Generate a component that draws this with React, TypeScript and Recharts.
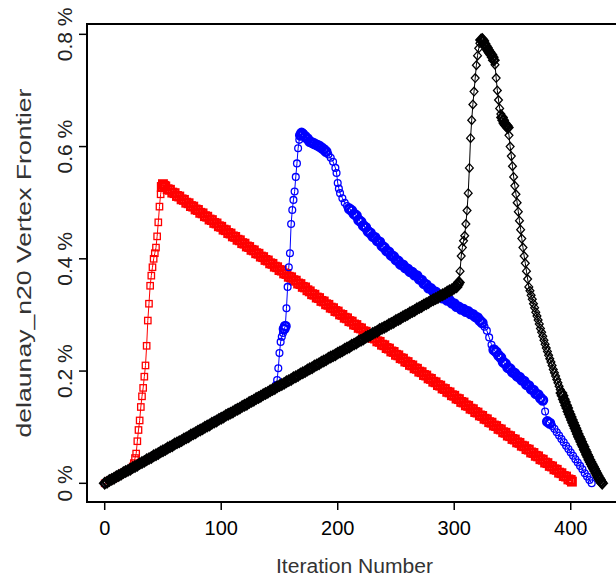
import React from 'react';
import { LineChart, Line, XAxis, YAxis, ReferenceArea } from 'recharts';

// iteration number, frontier size in %
const redSeries: [number, number][] = [
  [0, 0], [4, 0.005], [8, 0.009], [12, 0.014], [16, 0.019], [20, 0.023], [24, 0.03], [25, 0.036], [26, 0.045],
  [27, 0.053], [28, 0.075], [29, 0.095], [30, 0.112], [31, 0.136], [32, 0.155], [33, 0.17], [34, 0.19], [35, 0.21],
  [36, 0.245], [37, 0.29], [38, 0.32], [39, 0.352], [40, 0.37], [41, 0.385], [42, 0.4], [43, 0.41], [44, 0.42],
  [45, 0.44], [46, 0.465], [47, 0.493], [48, 0.515], [49, 0.528], [50, 0.533], [51, 0.53],
  [52, 0.529], [54, 0.524], [56, 0.523], [58, 0.518], [60, 0.517], [62, 0.512], [64, 0.511], [66, 0.506],
  [68, 0.505], [70, 0.5], [72, 0.499], [74, 0.494], [76, 0.493], [78, 0.488], [80, 0.487], [82, 0.482],
  [84, 0.481], [86, 0.476], [88, 0.475], [90, 0.47], [92, 0.469], [94, 0.464], [96, 0.463], [98, 0.458],
  [100, 0.457], [102, 0.452], [104, 0.451], [106, 0.446], [108, 0.445], [110, 0.44], [112, 0.439], [114, 0.434],
  [116, 0.433], [118, 0.428], [120, 0.427], [122, 0.422], [124, 0.421], [126, 0.416], [128, 0.415], [130, 0.41],
  [132, 0.409], [134, 0.404], [136, 0.403], [138, 0.398], [140, 0.397], [142, 0.392], [144, 0.391], [146, 0.386],
  [148, 0.385], [150, 0.38], [152, 0.379], [154, 0.374], [156, 0.373], [158, 0.368], [160, 0.367], [162, 0.362],
  [164, 0.361], [166, 0.356], [168, 0.355], [170, 0.35], [172, 0.349], [174, 0.344], [176, 0.342], [178, 0.337],
  [180, 0.336], [182, 0.331], [184, 0.33], [186, 0.325], [188, 0.324], [190, 0.319], [192, 0.318], [194, 0.313],
  [196, 0.312], [198, 0.307], [200, 0.306], [202, 0.301], [204, 0.3], [206, 0.295], [208, 0.294], [210, 0.289],
  [212, 0.288], [214, 0.283], [216, 0.282], [218, 0.277], [220, 0.276], [222, 0.271], [224, 0.27], [226, 0.265],
  [228, 0.264], [230, 0.259], [232, 0.258], [234, 0.253], [236, 0.252], [238, 0.247], [240, 0.246], [242, 0.241],
  [244, 0.24], [246, 0.235], [248, 0.234], [250, 0.229], [252, 0.228], [254, 0.223], [256, 0.222], [258, 0.217],
  [260, 0.216], [262, 0.211], [264, 0.21], [266, 0.205], [268, 0.204], [270, 0.199], [272, 0.198], [274, 0.193],
  [276, 0.192], [278, 0.187], [280, 0.186], [282, 0.181], [284, 0.18], [286, 0.175], [288, 0.174], [290, 0.169],
  [292, 0.168], [294, 0.163], [296, 0.162], [298, 0.157], [300, 0.156], [302, 0.151], [304, 0.15], [306, 0.145],
  [308, 0.144], [310, 0.139], [312, 0.138], [314, 0.133], [316, 0.132], [318, 0.127], [320, 0.126], [322, 0.121],
  [324, 0.12], [326, 0.115], [328, 0.114], [330, 0.109], [332, 0.108], [334, 0.103], [336, 0.102], [338, 0.097],
  [340, 0.096], [342, 0.091], [344, 0.09], [346, 0.085], [348, 0.084], [350, 0.079], [352, 0.078], [354, 0.073],
  [356, 0.072], [358, 0.067], [360, 0.066], [362, 0.061], [364, 0.06], [366, 0.055], [368, 0.054], [370, 0.049],
  [372, 0.048], [374, 0.043], [376, 0.042], [378, 0.037], [380, 0.036], [382, 0.031], [384, 0.03], [386, 0.025],
  [388, 0.024], [390, 0.019], [392, 0.018], [394, 0.013], [396, 0.012], [398, 0.007], [400, 0.006], [401, 0.003],
];

const blueSeries: [number, number][] = [
  [0, 0], [6, 0.007], [12, 0.014], [18, 0.021], [24, 0.028], [30, 0.035], [36, 0.042], [42, 0.049], [48, 0.056],
  [54, 0.063], [60, 0.07], [66, 0.077], [72, 0.084], [78, 0.091], [84, 0.099], [90, 0.106], [96, 0.113],
  [102, 0.12], [108, 0.127], [114, 0.133], [120, 0.14], [126, 0.147], [132, 0.154], [138, 0.161], [144, 0.168],
  [147, 0.175], [148, 0.184], [149, 0.205], [150, 0.232], [151, 0.252], [152, 0.261], [153, 0.268], [154, 0.275],
  [155, 0.28], [156, 0.312], [157, 0.35], [158, 0.385], [159, 0.41], [160, 0.462], [161, 0.487], [162, 0.505],
  [163, 0.52], [164, 0.546], [165, 0.57], [166, 0.597], [167, 0.612], [168, 0.62], [169, 0.624], [170, 0.622],
  [172, 0.618], [174, 0.614], [176, 0.609], [178, 0.607], [180, 0.605], [182, 0.603], [184, 0.601], [186, 0.598],
  [188, 0.595], [190, 0.591], [192, 0.586], [194, 0.58], [196, 0.573], [198, 0.562], [199, 0.553], [200, 0.535],
  [201, 0.525], [202, 0.517], [204, 0.508], [206, 0.5], [208, 0.494], [210, 0.489], [212, 0.486], [214, 0.48],
  [216, 0.477], [218, 0.469], [220, 0.466], [222, 0.459], [224, 0.456], [226, 0.449], [228, 0.446], [230, 0.44],
  [232, 0.438], [234, 0.432], [236, 0.43], [238, 0.423], [240, 0.42], [242, 0.414], [244, 0.412], [246, 0.406],
  [248, 0.404], [250, 0.398], [252, 0.396], [254, 0.39], [256, 0.389], [258, 0.384], [260, 0.382], [262, 0.377],
  [264, 0.376], [266, 0.371], [268, 0.37], [270, 0.364], [272, 0.362], [274, 0.356], [276, 0.354], [278, 0.348],
  [280, 0.347], [282, 0.342], [284, 0.341], [286, 0.336], [288, 0.335], [290, 0.33], [292, 0.33], [294, 0.326],
  [296, 0.326], [298, 0.321], [300, 0.32], [302, 0.315], [304, 0.314], [306, 0.31], [308, 0.31], [310, 0.306],
  [312, 0.306], [314, 0.302], [316, 0.301], [318, 0.297], [320, 0.295], [322, 0.29], [324, 0.286], [326, 0.279],
  [328, 0.272], [330, 0.26], [332, 0.247], [334, 0.238], [336, 0.234], [338, 0.228], [340, 0.224], [342, 0.216],
  [344, 0.213], [346, 0.206], [348, 0.204], [350, 0.198], [352, 0.196], [354, 0.191], [356, 0.189], [358, 0.184],
  [360, 0.182], [362, 0.176], [364, 0.174], [366, 0.168], [368, 0.166], [370, 0.16], [372, 0.158], [374, 0.152],
  [376, 0.148], [378, 0.128], [380, 0.11], [382, 0.107], [384, 0.102], [386, 0.097], [388, 0.091], [390, 0.085],
  [392, 0.079], [394, 0.073], [396, 0.067], [398, 0.061], [400, 0.055], [402, 0.049], [404, 0.043], [406, 0.037],
  [408, 0.031], [410, 0.025], [412, 0.018], [414, 0.012], [416, 0.006], [418, 0],
];

const blackSeries: [number, number][] = [
  [0, 0], [2, 0.002], [4, 0.005], [6, 0.007], [8, 0.009], [10, 0.012], [12, 0.014], [14, 0.016], [16, 0.019],
  [18, 0.021], [20, 0.023], [22, 0.025], [24, 0.028], [26, 0.03], [28, 0.032], [30, 0.035], [32, 0.037],
  [34, 0.039], [36, 0.042], [38, 0.044], [40, 0.046], [42, 0.049], [44, 0.051], [46, 0.053], [48, 0.056],
  [50, 0.058], [52, 0.06], [54, 0.063], [56, 0.065], [58, 0.067], [60, 0.07], [62, 0.072], [64, 0.074],
  [66, 0.076], [68, 0.079], [70, 0.081], [72, 0.083], [74, 0.086], [76, 0.088], [78, 0.09], [80, 0.093],
  [82, 0.095], [84, 0.097], [86, 0.1], [88, 0.102], [90, 0.104], [92, 0.107], [94, 0.109], [96, 0.111],
  [98, 0.114], [100, 0.116], [102, 0.118], [104, 0.121], [106, 0.123], [108, 0.125], [110, 0.127], [112, 0.13],
  [114, 0.132], [116, 0.134], [118, 0.137], [120, 0.139], [122, 0.141], [124, 0.144], [126, 0.146], [128, 0.148],
  [130, 0.151], [132, 0.153], [134, 0.155], [136, 0.158], [138, 0.16], [140, 0.162], [142, 0.165], [144, 0.167],
  [146, 0.169], [148, 0.172], [150, 0.174], [152, 0.176], [154, 0.178], [156, 0.181], [158, 0.183], [160, 0.185],
  [162, 0.188], [164, 0.19], [166, 0.192], [168, 0.195], [170, 0.197], [172, 0.199], [174, 0.202], [176, 0.204],
  [178, 0.206], [180, 0.209], [182, 0.211], [184, 0.213], [186, 0.216], [188, 0.218], [190, 0.22], [192, 0.223],
  [194, 0.225], [196, 0.227], [198, 0.229], [200, 0.232], [202, 0.234], [204, 0.236], [206, 0.239], [208, 0.241],
  [210, 0.243], [212, 0.246], [214, 0.248], [216, 0.25], [218, 0.253], [220, 0.255], [222, 0.257], [224, 0.26],
  [226, 0.262], [228, 0.264], [230, 0.267], [232, 0.269], [234, 0.271], [236, 0.274], [238, 0.276], [240, 0.278],
  [242, 0.28], [244, 0.283], [246, 0.285], [248, 0.287], [250, 0.29], [252, 0.292], [254, 0.294], [256, 0.297],
  [258, 0.299], [260, 0.301], [262, 0.304], [264, 0.306], [266, 0.308], [268, 0.311], [270, 0.313], [272, 0.315],
  [274, 0.318], [276, 0.32], [278, 0.322], [280, 0.325], [282, 0.327], [284, 0.329], [286, 0.331], [288, 0.334],
  [290, 0.336], [292, 0.338], [294, 0.341], [296, 0.343], [298, 0.345], [300, 0.348], [302, 0.35],
  [303, 0.354], [304, 0.358], [305, 0.378], [306, 0.405], [307, 0.42], [308, 0.432], [309, 0.441], [310, 0.462],
  [311, 0.486], [312, 0.517], [313, 0.562], [314, 0.615], [315, 0.647], [316, 0.675], [317, 0.698], [318, 0.722],
  [319, 0.745], [320, 0.762], [321, 0.775], [322, 0.784], [323, 0.79], [324, 0.791], [325, 0.788], [326, 0.783],
  [327, 0.779], [328, 0.776], [329, 0.772], [330, 0.769], [331, 0.766], [332, 0.763], [333, 0.759], [334, 0.754],
  [335, 0.746], [336, 0.722], [337, 0.7], [338, 0.683], [339, 0.668], [340, 0.658], [341, 0.652], [342, 0.647],
  [343, 0.642], [344, 0.639], [345, 0.637], [346, 0.634], [347, 0.62], [348, 0.6], [349, 0.583], [350, 0.565],
  [351, 0.546], [352, 0.53], [353, 0.515], [354, 0.5], [355, 0.484], [356, 0.468], [357, 0.452], [358, 0.436],
  [359, 0.42], [360, 0.405], [361, 0.392], [362, 0.378], [363, 0.364], [364, 0.35], [365, 0.343], [366, 0.335],
  [367, 0.328], [368, 0.32], [369, 0.313], [370, 0.305], [371, 0.298], [372, 0.291], [373, 0.284], [374, 0.276],
  [375, 0.269], [376, 0.262], [377, 0.255], [378, 0.248], [379, 0.241], [380, 0.235], [381, 0.228], [382, 0.222],
  [383, 0.216], [384, 0.21], [385, 0.203], [386, 0.197], [387, 0.191], [388, 0.185], [389, 0.179], [390, 0.173],
  [391, 0.167], [392, 0.161], [393, 0.156], [394, 0.15], [395, 0.145], [396, 0.139], [397, 0.134], [398, 0.128],
  [399, 0.123], [400, 0.118], [401, 0.113], [402, 0.108], [403, 0.103], [404, 0.098], [405, 0.093], [406, 0.088],
  [407, 0.083], [408, 0.079], [409, 0.074], [410, 0.069], [411, 0.065], [412, 0.06], [413, 0.056], [414, 0.051],
  [415, 0.047], [416, 0.042], [417, 0.038], [418, 0.034], [419, 0.03], [420, 0.026], [421, 0.022], [422, 0.018],
  [423, 0.014], [424, 0.01], [425, 0.007], [426, 0.003], [427, 0],
];

const xTicks = [0, 100, 200, 300, 400];
const yTicks = [0, 0.2, 0.4, 0.6, 0.8];
const xDomain: [number, number] = [-15.2, 444];
const yDomain: [number, number] = [-0.0333, 0.8184];

const FONT = '"Liberation Sans", Arial, Helvetica, sans-serif';

// approx pixels per unit, used only to tell crowded markers (they blur into a band in the original)
const PX_X = 534.5 / (xDomain[1] - xDomain[0]);
const PX_Y = 478 / (yDomain[1] - yDomain[0]);

const toRows = (s: [number, number][]) =>
  s.map(([x, y], i) => {
    const gap = (j: number) => {
      if (j < 0 || j >= s.length) return Infinity;
      return Math.hypot((s[j][0] - x) * PX_X, (s[j][1] - y) * PX_Y);
    };
    const near = Math.min(gap(i - 1), gap(i + 1));
    return { x, y, dense: near < 3.5 };
  });

const redRows = toRows(redSeries);
const blueRows = toRows(blueSeries);
const blackRows = toRows(blackSeries);

const squareDot = (p: any) => {
  const d = p.payload?.dense;
  const h = d ? 3.8 : 3.2;
  return (
    <rect key={`r${p.index}`} x={p.cx - h} y={p.cy - h} width={h * 2} height={h * 2} fill="none" stroke="#ff0000" strokeWidth={d ? 2.3 : 1.3} />
  );
};
const circleDot = (p: any) => {
  const d = p.payload?.dense;
  return <circle key={`b${p.index}`} cx={p.cx} cy={p.cy} r={d ? 4.1 : 3.4} fill="none" stroke="#0000ff" strokeWidth={d ? 2.8 : 1.3} />;
};
const diamondDot = (p: any) => {
  const d = p.payload?.dense;
  const hy = d ? 5 : 4.3;
  const hx = d ? 4.6 : 3.9;
  return (
    <path
      key={`k${p.index}`}
      d={`M${p.cx},${p.cy - hy}L${p.cx + hx},${p.cy}L${p.cx},${p.cy + hy}L${p.cx - hx},${p.cy}Z`}
      fill="none"
      stroke="#000"
      strokeWidth={d ? 2.3 : 1.3}
    />
  );
};

const YTick = (props: any) => {
  const { y, payload } = props;
  const v = payload.value;
  const text = v === 0 ? '0 %' : `${v.toFixed(1)} %`;
  const bx = 72;
  return (
    <text x={bx} y={y} transform={`rotate(-90, ${bx}, ${y})`} textAnchor="middle" fontFamily={FONT} fontSize={21} fill="#222">
      {text}
    </text>
  );
};

export default function App() {
  return (
    <div style={{ position: 'absolute', left: 0, top: 0, width: 616, height: 578, overflow: 'hidden', background: '#fff' }}>
      <LineChart width={630} height={578} margin={{ top: 24, right: 8, bottom: 0, left: 0 }}>
        <XAxis
          type="number"
          dataKey="x"
          domain={xDomain}
          ticks={xTicks}
          allowDataOverflow
          axisLine={false}
          tickLine={{ stroke: '#000', strokeWidth: 1.5 }}
          tickSize={8}
          tickMargin={11}
          height={76}
          tick={{ fill: '#000', fontSize: 20, fontFamily: FONT }}
          label={(props: any) => {
            const vb = props.viewBox;
            const cx = vb.x + vb.width / 2;
            return (
              <text x={cx} y={573} textAnchor="middle" fontFamily={FONT} fontSize={20} fill="#333" textLength={157} lengthAdjust="spacingAndGlyphs">
                Iteration Number
              </text>
            );
          }}
        />
        <YAxis
          type="number"
          domain={yDomain}
          ticks={yTicks}
          allowDataOverflow
          axisLine={false}
          tickLine={{ stroke: '#000', strokeWidth: 1.5 }}
          tickSize={8}
          width={87}
          tick={<YTick />}
          label={(props: any) => {
            const vb = props.viewBox;
            const cx = 31;
            const cy = vb.y + vb.height / 2;
            return (
              <text x={cx} y={cy} transform={`rotate(-90, ${cx}, ${cy})`} textAnchor="middle" fontFamily={FONT} fontSize={20} fill="#333" textLength={349} lengthAdjust="spacingAndGlyphs">
                delaunay_n20 Vertex Frontier
              </text>
            );
          }}
        />
        <ReferenceArea x1={xDomain[0]} x2={xDomain[1]} y1={yDomain[0]} y2={yDomain[1]} fill="none" stroke="#000" strokeWidth={2} strokeOpacity={1} fillOpacity={0} ifOverflow="visible" />
        <Line data={redRows} dataKey="y" type="linear" stroke="#ff0000" strokeWidth={1} dot={squareDot} activeDot={false} isAnimationActive={false} />
        <Line data={blueRows} dataKey="y" type="linear" stroke="#0000ff" strokeWidth={1} dot={circleDot} activeDot={false} isAnimationActive={false} />
        <Line data={blackRows} dataKey="y" type="linear" stroke="#000" strokeWidth={1} dot={diamondDot} activeDot={false} isAnimationActive={false} />
      </LineChart>
    </div>
  );
}
